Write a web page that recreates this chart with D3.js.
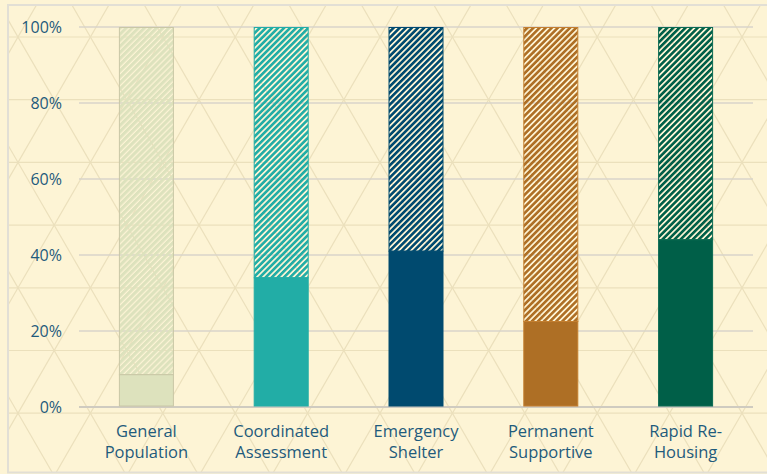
<!DOCTYPE html>
<html>
<head>
  <meta charset="utf-8">
  <script src="https://cdn.jsdelivr.net/npm/d3@7"></script>
  <style>
    body { margin: 0; background: #fdf4d5; }
    text { font-family: 'Open Sans', Lato, sans-serif; fill: #1f5b7c; }
  </style>
</head>
<body>
<svg id="chart" width="767" height="474"></svg>
<script>
var categories = [['General', 'Population'], ['Coordinated', 'Assessment'], ['Emergency', 'Shelter'], ['Permanent', 'Supportive'], ['Rapid Re-', 'Housing']];
var solidValues = [8.5, 34, 41, 22.5, 44];   // % solid part
var totalValues = [100, 100, 100, 100, 100];  // hatched part goes up to this
var barColors = ['#dde2bd', '#22ada6', '#004a6f', '#ae6f25', '#005f48'];
var barEdges = ['#c9c7a6', '#22ada6', '#004a6f', '#c47f30', '#0b6b52'];
var stripeColors = ['#dde2bd', '#22ada6', '#004a6f', '#ae6f25', '#005f48'];
var yTicks = [0, 20, 40, 60, 80, 100];

var svg = d3.select('#chart'),
  width = +svg.attr('width'),
  height = +svg.attr('height');

var margin = { left: 79, right: 14, top: 27, bottom: 67 };

var defs = svg.append('defs');

// hatch patterns, one per bar
stripeColors.forEach((c, i) => {
  var p = defs.append('pattern')
    .attr('id', 'hatch' + i)
    .attr('patternUnits', 'userSpaceOnUse')
    .attr('width', 4.3)
    .attr('height', 4.3)
    .attr('patternTransform', 'rotate(45)');
  p.append('rect')
    .attr('width', i == 0 ? 3.1 : 2.6)
    .attr('height', 4.3)
    .attr('fill', c);
});

defs.append('clipPath').attr('id', 'frame')
  .append('rect').attr('x', 8).attr('y', 5).attr('width', 770).attr('height', 468);

// background triangle lattice
var lattice = svg.append('g').attr('clip-path', 'url(#frame)')
  .attr('stroke', '#ebe0bc').attr('stroke-width', 1.2);
var side = 72.4, rowH = side * Math.sqrt(3) / 2, y0 = 37, x0 = 18;
for (var k = -2; k < 10; k++) {
  var y = y0 + k * rowH;
  lattice.append('line').attr('x1', 0).attr('x2', width).attr('y1', y).attr('y2', y);
}
var L = 1200;
for (var k = -12; k < 20; k++) {
  var x = x0 + k * side;
  var dx = L / Math.tan(Math.PI / 3);
  lattice.append('line').attr('x1', x - dx).attr('y1', y0 + L).attr('x2', x + dx).attr('y2', y0 - L);
  lattice.append('line').attr('x1', x + dx).attr('y1', y0 + L).attr('x2', x - dx).attr('y2', y0 - L);
}

// frame
svg.append('rect')
  .attr('x', 8).attr('y', 5).attr('width', 780).attr('height', 467.5)
  .attr('fill', 'none').attr('stroke', '#e2dfd5').attr('stroke-width', 2);

var x = d3.scaleBand()
  .domain(d3.range(categories.length))
  .range([margin.left, width - margin.right])
  .paddingInner(0.592)
  .paddingOuter(0.296);

var yScale = d3.scaleLinear()
  .domain([0, 100])
  .range([height - margin.bottom, margin.top]);

// gridlines
svg.append('g').selectAll('line')
  .data(yTicks)
  .enter()
  .append('line')
  .attr('x1', margin.left)
  .attr('x2', width - margin.right)
  .attr('y1', d => yScale(d))
  .attr('y2', d => yScale(d))
  .attr('stroke', d => d == 0 ? '#cfcbc0' : '#d9d5ca')
  .attr('stroke-width', d => d == 0 ? 2 : 1.6);

// y tick labels
svg.append('g').selectAll('text')
  .data(yTicks)
  .enter()
  .append('text')
  .attr('x', 62)
  .attr('y', d => yScale(d))
  .attr('dy', '0.36em')
  .attr('text-anchor', 'end')
  .attr('font-size', 16)
  .text(d => d + '%');

// hatched part
svg.append('g').selectAll('rect')
  .data(totalValues)
  .enter()
  .append('rect')
  .attr('x', (d, i) => x(i) + 0.5)
  .attr('width', x.bandwidth() - 1)
  .attr('y', d => yScale(d) + 0.5)
  .attr('height', (d, i) => yScale(solidValues[i]) - yScale(d) - 0.5)
  .attr('fill', (d, i) => 'url(#hatch' + i + ')')
  .attr('stroke', (d, i) => barEdges[i])
  .attr('stroke-width', 1);

// solid part
svg.append('g').selectAll('rect')
  .data(solidValues)
  .enter()
  .append('rect')
  .attr('x', (d, i) => x(i) + 0.5)
  .attr('width', x.bandwidth() - 1)
  .attr('y', d => yScale(d))
  .attr('height', d => yScale(0) - yScale(d) - 1)
  .attr('fill', (d, i) => barColors[i])
  .attr('stroke', (d, i) => barEdges[i])
  .attr('stroke-width', 1);

// category labels
var labels = svg.append('g').selectAll('text')
  .data(categories)
  .enter()
  .append('text')
  .attr('text-anchor', 'middle')
  .attr('font-size', 16.5)
  .attr('x', (d, i) => x(i) + x.bandwidth() / 2);
labels.each(function (d) {
  d3.select(this).selectAll('tspan')
    .data(d)
    .enter()
    .append('tspan')
    .attr('x', d3.select(this).attr('x'))
    .attr('y', (t, j) => 437 + j * 21)
    .text(t => t);
});
</script>
</body>
</html>
